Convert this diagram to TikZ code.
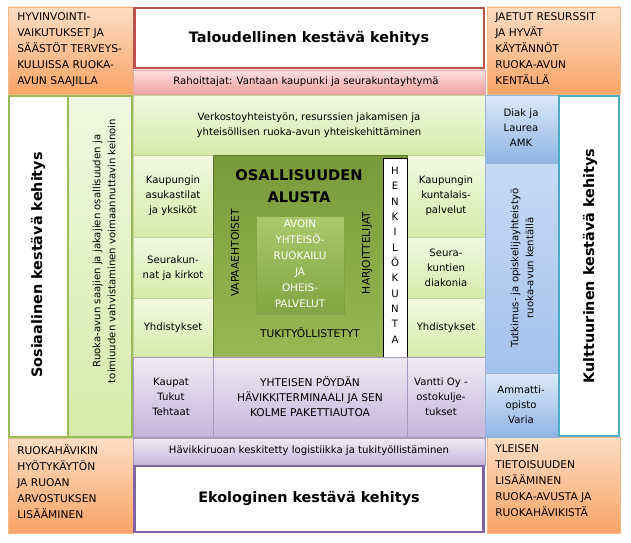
\documentclass[tikz,border=0pt]{standalone}
\usepackage{fontspec}
\setmainfont{DejaVu Sans}
\usetikzlibrary{shadows}

\definecolor{orangetop}{HTML}{FCDDC4}
\definecolor{orangebot}{HTML}{F9A466}
\definecolor{orangeline}{HTML}{F5B887}
\definecolor{redline}{HTML}{C0504D}
\definecolor{pinktop}{HTML}{FBE2E1}
\definecolor{pinkbot}{HTML}{F09F9D}
\definecolor{pinkline}{HTML}{E6A4A2}
\definecolor{greenline}{HTML}{9BBB59}
\definecolor{lgtop}{HTML}{F1F8E2}
\definecolor{lgbot}{HTML}{D6EBAA}
\definecolor{lgline}{HTML}{C3D69B}
\definecolor{dgtop}{HTML}{789A3A}
\definecolor{dgbot}{HTML}{98B855}
\definecolor{intop}{HTML}{A9C96B}
\definecolor{inbot}{HTML}{82A442}
\definecolor{bluetop}{HTML}{DDE8F8}
\definecolor{bluebot}{HTML}{8FB5E5}
\definecolor{bluemidtop}{HTML}{C8DAF5}
\definecolor{bluemidbot}{HTML}{A3C1EC}
\definecolor{blueline}{HTML}{95B3D7}
\definecolor{tealline}{HTML}{4BACC6}
\definecolor{purptop}{HTML}{EFEBF5}
\definecolor{purpbot}{HTML}{C4B5DB}
\definecolor{purpline}{HTML}{8064A2}
\definecolor{purpthin}{HTML}{A898C0}

\tikzset{
  corner/.style={draw=orangeline, top color=orangetop, bottom color=orangebot,
    drop shadow={opacity=.25, shadow xshift=1pt, shadow yshift=-1pt}},
  cornertxt/.style={anchor=north west, align=left, inner sep=0pt,
    font=\fontsize{8}{12}\selectfont},
  lightcell/.style={draw=lgline, top color=lgtop, bottom color=lgbot},
  bluecell/.style={draw=blueline, top color=bluetop, bottom color=bluebot},
  purplecell/.style={draw=purpthin, top color=purptop, bottom color=purpbot},
  titletxt/.style={font=\fontsize{10.8}{13}\selectfont\bfseries},
  celltxt/.style={align=center, inner sep=0pt},
  capstxt/.style={align=center, inner sep=0pt, font=\fontsize{8}{11.25}\selectfont},
}

\begin{document}
\begin{tikzpicture}[x=0.75pt, y=-0.75pt, font=\fontsize{7.6}{11.25}\selectfont]
  \useasboundingbox (0,0) rectangle (631,542);

  % Corner boxes
  \draw[corner] (8,7) rectangle (133,94);
  \draw[corner] (487,7) rectangle (620,94);
  \draw[corner] (8,438) rectangle (133,533);
  \draw[corner] (487,437) rectangle (620,533);
  \node[cornertxt] (wellbeing) at (17,12)
    {HYVINVOINTI-\\VAIKUTUKSET JA\\SÄÄSTÖT TERVEYS-\\KULUISSA RUOKA-\\AVUN SAAJILLA};
  \node[cornertxt] (resources) at (495,12)
    {JAETUT RESURSSIT\\JA HYVÄT\\KÄYTÄNNÖT\\RUOKA-AVUN\\KENTÄLLÄ};
  \node[cornertxt] (foodwaste) at (17,444)
    {RUOKAHÄVIKIN\\HYÖTYKÄYTÖN\\JA RUOAN\\ARVOSTUKSEN\\LISÄÄMINEN};
  \node[cornertxt] (awareness) at (495,444)
    {YLEISEN\\TIETOISUUDEN\\LISÄÄMINEN\\RUOKA-AVUSTA JA\\RUOKAHÄVIKISTÄ};

  % Economic
  \draw[redline, line width=2.2pt, fill=white] (134.5,8) rectangle (484,68.5);
  \draw[draw=pinkline, top color=pinktop, bottom color=pinkbot] (133,70) rectangle (485,94);
  \node[titletxt] (econ) at (309,38) {Taloudellinen kestävä kehitys};
  \node (funders) at (306,82) {Rahoittajat: Vantaan kaupunki ja seurakuntayhtymä};

  % Social column
  \fill[white] (8,95) rectangle (68,438);
  \draw[lightcell] (68,95) rectangle (133,438);
  \draw[greenline, line width=2.2pt] (9,96) rectangle (132,437) (68,96) -- (68,437);
  \node[titletxt, rotate=90] (social) at (38,265) {Sosiaalinen kestävä kehitys};
  \node[celltxt, rotate=90] (empower) at (104,251)
    {Ruoka-avun saajien ja jakajien osallisuuden ja\\toimiuuden vahvistaminen voimaannuttavin keinoin};

  % Network row
  \draw[lightcell] (133,95) rectangle (485,155);
  \node[celltxt] (network) at (309,125)
    {Verkostoyhteistyön, resurssien jakamisen ja\\yhteisöllisen ruoka-avun yhteiskehittäminen};

  % Side cells
  \draw[lightcell] (133,155) rectangle (213,237);
  \draw[lightcell] (133,237) rectangle (213,298);
  \draw[lightcell] (133,298) rectangle (213,357);
  \draw[lightcell] (407,155) rectangle (485,237);
  \draw[lightcell] (407,237) rectangle (485,298);
  \draw[lightcell] (407,298) rectangle (485,357);
  \node[celltxt] (citysp) at (173,196) {Kaupungin\\asukastilat\\ja yksiköt};
  \node[celltxt] (parishes) at (173,268) {Seurakun-\\nat ja kirkot};
  \node[celltxt] (assocl) at (173,328) {Yhdistykset};
  \node[celltxt] (citysrv) at (446,196) {Kaupungin\\kuntalais-\\palvelut};
  \node[celltxt] (diaconia) at (446,268) {Seura-\\kuntien\\diakonia};
  \node[celltxt] (assocr) at (446,328) {Yhdistykset};

  % Platform
  \draw[draw=dgtop!80!black, top color=dgtop, bottom color=dgbot] (213,155) rectangle (407,357);
  \node[celltxt, font=\fontsize{11}{16.5}\selectfont\bfseries] (platform)
    at (299,186) {OSALLISUUDEN\\ALUSTA};
  \draw[draw=inbot, top color=intop, bottom color=inbot,
    drop shadow={opacity=.35, shadow xshift=1pt, shadow yshift=-1.5pt}] (256,216) rectangle (344,313);
  \node[capstxt, text=white, font=\fontsize{7.8}{12}\selectfont] (openmeal) at (300,264)
    {AVOIN\\YHTEISÖ-\\RUOKAILU\\JA\\OHEIS-\\PALVELUT};
  \node[capstxt, rotate=90] (volunteers) at (235,253) {VAPAAEHTOISET};
  \node[capstxt, rotate=90] (trainees) at (367,253) {HARJOITTELIJAT};
  \node[capstxt] (supported) at (310,333) {TUKITYÖLLISTETYT};
  \draw[black, fill=white] (383,158) rectangle (407,358);
  \node[capstxt, font=\fontsize{7.6}{11.5}\selectfont] (staff) at (395,255)
    {H\\E\\N\\K\\I\\L\\Ö\\K\\U\\N\\T\\A};

  % Bottom row
  \draw[purplecell] (133,357) rectangle (213,437);
  \draw[purplecell] (213,357) rectangle (407,437);
  \draw[purplecell] (407,357) rectangle (485,437);
  \node[celltxt] (shops) at (171,397) {Kaupat\\Tukut\\Tehtaat};
  \node[capstxt] (terminal) at (310,397)
    {YHTEISEN PÖYDÄN\\HÄVIKKITERMINAALI JA SEN\\KOLME PAKETTIAUTOA};
  \node[celltxt] (vantti) at (441,397) {Vantti Oy -\\ostokulje-\\tukset};
  \draw[purplecell] (133,438) rectangle (485,465);
  \node (logistics) at (309,451) {Hävikkiruoan keskitetty logistiikka ja tukityöllistäminen};

  % Ecological
  \draw[purpline, line width=2.2pt, fill=white] (134.5,466) rectangle (483.5,532);
  \node[titletxt] (ecol) at (309,498) {Ekologinen kestävä kehitys};

  % Cultural column
  \draw[bluecell] (485,95) rectangle (558,163);
  \draw[draw=blueline, top color=bluemidtop, bottom color=bluemidbot] (485,163) rectangle (558,373);
  \draw[bluecell] (485,373) rectangle (558,437);
  \node[celltxt] (diak) at (521,128) {Diak ja\\Laurea\\AMK};
  \node[celltxt, rotate=90] (research) at (522,268)
    {Tutkimus- ja opiskelijayhteistyö\\ruoka-avun kentällä};
  \node[celltxt] (varia) at (521,405) {Ammatti-\\opisto\\Varia};
  \draw[tealline, line width=2.2pt, fill=white] (559,96) rectangle (619,436);
  \node[titletxt, rotate=90] (culture) at (590,266) {Kulttuurinen kestävä kehitys};
\end{tikzpicture}
\end{document}
